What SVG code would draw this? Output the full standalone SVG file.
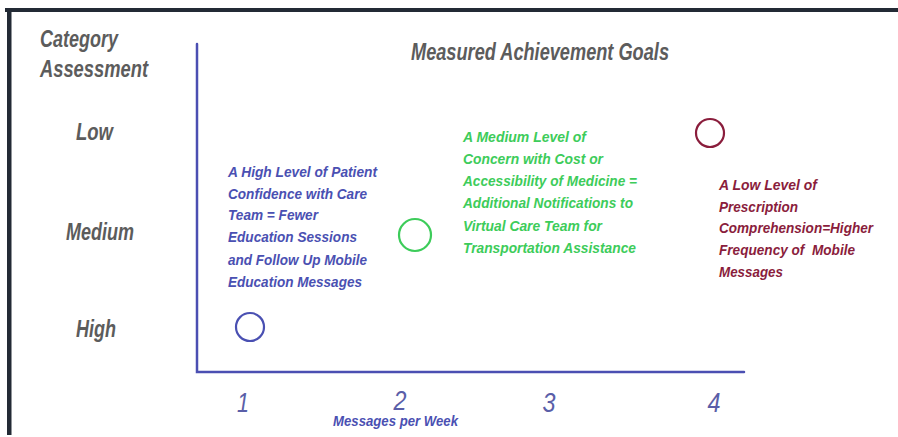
<svg xmlns="http://www.w3.org/2000/svg" width="898" height="437" viewBox="0 0 898 437">
  <style>
    .lbl { font-family: "Liberation Sans", Arial, sans-serif; font-style: italic; font-weight: bold; fill: #5c5c5c; font-size: 23px; }
    .num { font-family: "Liberation Sans", Arial, sans-serif; font-style: italic; fill: #5a5ea8; font-size: 28px; text-anchor: middle; }
    .note { font-family: "Liberation Sans", Arial, sans-serif; font-style: italic; font-weight: bold; font-size: 15.5px; white-space: pre; }
    .blue { fill: #4a50b2; }
    .green { fill: #3dcc5a; }
    .red { fill: #8a1d3c; }
    .axis { stroke: #4b4fb2; stroke-width: 2.5; fill: none; stroke-linecap: round; }
    .dot { fill: none; stroke-width: 2.2; }
  </style>
  <rect width="898" height="437" fill="#ffffff"/>
  <!-- frame -->
  <rect x="5" y="8" width="893" height="4" fill="#232a35"/>
  <rect x="7" y="8" width="4.5" height="427" fill="#232a35"/>

  <!-- headings -->
  <g id="y-title">
    <text class="lbl" x="40" y="47" textLength="78" lengthAdjust="spacingAndGlyphs">Category</text>
    <text class="lbl" x="40" y="77" textLength="108" lengthAdjust="spacingAndGlyphs">Assessment</text>
  </g>
  <g id="chart-title">
    <text class="lbl" x="411" y="60" textLength="258" lengthAdjust="spacingAndGlyphs">Measured Achievement Goals</text>
  </g>
  <g id="y-levels">
    <text class="lbl" x="76" y="140" textLength="37" lengthAdjust="spacingAndGlyphs">Low</text>
    <text class="lbl" x="66" y="240" textLength="68" lengthAdjust="spacingAndGlyphs">Medium</text>
    <text class="lbl" x="76" y="337" textLength="40" lengthAdjust="spacingAndGlyphs">High</text>
  </g>

  <!-- axes -->
  <g id="connectors">
    <polyline class="axis" points="197,44 197,372 744,372"/>
  </g>

  <g id="x-ticks">
    <text class="num" x="243" y="412" textLength="12" lengthAdjust="spacingAndGlyphs">1</text>
    <text class="num" x="400" y="410" textLength="13" lengthAdjust="spacingAndGlyphs">2</text>
    <text class="num" x="549" y="412" textLength="13" lengthAdjust="spacingAndGlyphs">3</text>
    <text class="num" x="714" y="412" textLength="13" lengthAdjust="spacingAndGlyphs">4</text>
    <text class="note blue" x="333" y="426" font-size="12" textLength="125" lengthAdjust="spacingAndGlyphs">Messages per Week</text>
  </g>

  <!-- point: high confidence -->
  <g id="point-high">
    <circle class="dot" cx="250" cy="327" r="14" stroke="#4a50b2"/>
    <text class="note blue" x="228" y="177" textLength="149" lengthAdjust="spacingAndGlyphs">A High Level of Patient</text>
    <text class="note blue" x="228" y="199" textLength="139" lengthAdjust="spacingAndGlyphs">Confidence with Care</text>
    <text class="note blue" x="228" y="220" textLength="90" lengthAdjust="spacingAndGlyphs">Team = Fewer</text>
    <text class="note blue" x="228" y="242" textLength="129" lengthAdjust="spacingAndGlyphs">Education Sessions</text>
    <text class="note blue" x="228" y="265" textLength="139" lengthAdjust="spacingAndGlyphs">and Follow Up Mobile</text>
    <text class="note blue" x="228" y="287" textLength="134" lengthAdjust="spacingAndGlyphs">Education Messages</text>
  </g>

  <!-- point: medium concern -->
  <g id="point-medium">
    <circle class="dot" cx="415" cy="235" r="16" stroke="#3dcc5a"/>
    <text class="note green" x="463" y="142" textLength="123" lengthAdjust="spacingAndGlyphs">A Medium Level of</text>
    <text class="note green" x="463" y="164" textLength="140" lengthAdjust="spacingAndGlyphs">Concern with Cost or</text>
    <text class="note green" x="463" y="186" textLength="174" lengthAdjust="spacingAndGlyphs">Accessibility of Medicine =</text>
    <text class="note green" x="463" y="208" textLength="170" lengthAdjust="spacingAndGlyphs">Additional Notifications to</text>
    <text class="note green" x="463" y="231" textLength="139" lengthAdjust="spacingAndGlyphs">Virtual Care Team for</text>
    <text class="note green" x="463" y="253" textLength="173" lengthAdjust="spacingAndGlyphs">Transportation Assistance</text>
  </g>

  <!-- point: low comprehension -->
  <g id="point-low">
    <circle class="dot" cx="710" cy="133" r="14" stroke="#8a1d3c"/>
    <text class="note red" x="719" y="190" textLength="98" lengthAdjust="spacingAndGlyphs">A Low Level of</text>
    <text class="note red" x="719" y="212" textLength="79" lengthAdjust="spacingAndGlyphs">Prescription</text>
    <text class="note red" x="719" y="233" textLength="154" lengthAdjust="spacingAndGlyphs">Comprehension=Higher</text>
    <text class="note red" x="719" y="255" textLength="136" lengthAdjust="spacingAndGlyphs">Frequency of  Mobile</text>
    <text class="note red" x="719" y="277" textLength="64" lengthAdjust="spacingAndGlyphs">Messages</text>
  </g>
</svg>
